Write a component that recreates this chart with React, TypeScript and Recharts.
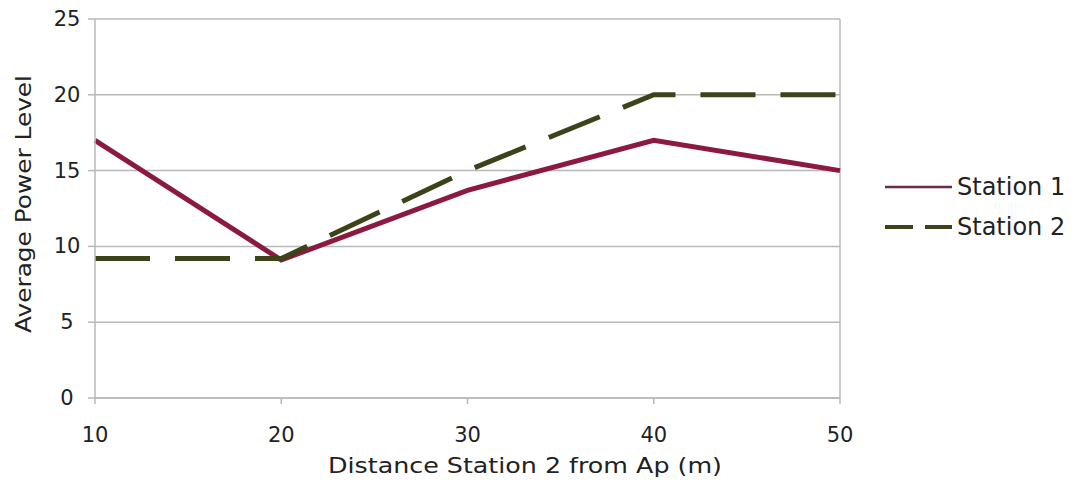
import React from "react";
import {
  LineChart,
  Line,
  XAxis,
  YAxis,
  CartesianGrid,
  Legend,
  ReferenceLine,
} from "recharts";

const distances = [10, 20, 30, 40, 50];
const station1 = [17, 9.1, 13.7, 17, 15];
const station2 = [9.2, 9.2, 15, 20, 20];
const yTicks = [0, 5, 10, 15, 20, 25];

const data = distances.map((d, i) => ({
  distance: d,
  s1: station1[i],
  s2: station2[i],
}));

const FONT = "'DejaVu Sans', Verdana, sans-serif";
const C1 = "#8c1a40";
const C2 = "#3b4318";
const GRID = "#b8b8b8";

const YTick = ({ y, payload }: any) => (
  <text
    x={67}
    y={y}
    textAnchor="middle"
    dominantBaseline="central"
    fontFamily={FONT}
    fontSize={21}
    fill="#222"
  >
    {payload.value}
  </text>
);

const LegendBox = () => (
  <div style={{ fontFamily: FONT, fontSize: 24, color: "#222" }}>
    <div style={{ display: "flex", alignItems: "center", height: 40 }}>
      <svg width={72} height={10}>
        <line x1={0} y1={5} x2={67} y2={5} stroke="#6a2a4a" strokeWidth={2.5} />
      </svg>
      <span>Station 1</span>
    </div>
    <div style={{ display: "flex", alignItems: "center", height: 40 }}>
      <svg width={72} height={10}>
        <line
          x1={0}
          y1={5}
          x2={67}
          y2={5}
          stroke={C2}
          strokeWidth={4}
          strokeDasharray="28 12"
        />
      </svg>
      <span>Station 2</span>
    </div>
  </div>
);

export default function App() {
  return (
    <div style={{ position: "absolute", left: 0, top: 0, background: "#fff" }}>
      <LineChart
        width={1077}
        height={488}
        data={data}
        margin={{ top: 19, right: 237, left: 0, bottom: 0 }}
      >
        <CartesianGrid vertical={false} stroke={GRID} strokeWidth={1.5} />
        <XAxis
          dataKey="distance"
          type="number"
          domain={[10, 50]}
          ticks={distances}
          height={90}
          stroke={GRID}
          strokeWidth={1.5}
          tickSize={6}
          tickMargin={23}
          tick={{ fontFamily: FONT, fontSize: 21, fill: "#222" }}
          label={{
            content: () => (
              <text
                x={525}
                y={466}
                textAnchor="middle"
                dominantBaseline="central"
                fontFamily={FONT}
                fontSize={21}
                textLength={394}
                lengthAdjust="spacingAndGlyphs"
                fill="#222"
              >
                Distance Station 2 from Ap (m)
              </text>
            ),
          }}
        />
        <YAxis
          domain={[0, 25]}
          ticks={yTicks}
          width={95}
          stroke={GRID}
          strokeWidth={1.5}
          tickSize={7}
          tick={<YTick />}
          label={{
            content: () => (
              <text
                x={24}
                y={204}
                transform="rotate(-90 24 204)"
                textAnchor="middle"
                dominantBaseline="central"
                fontFamily={FONT}
                fontSize={21}
                textLength={258}
                lengthAdjust="spacingAndGlyphs"
                fill="#222"
              >
                Average Power Level
              </text>
            ),
          }}
        />
        <ReferenceLine x={50} stroke={GRID} strokeWidth={1.5} />
        <Legend
          layout="vertical"
          verticalAlign="middle"
          align="center"
          content={() => <LegendBox />}
          wrapperStyle={{ left: 885, top: 167, width: 192 }}
        />
        <Line
          dataKey="s1"
          name="Station 1"
          stroke={C1}
          strokeWidth={5}
          dot={false}
          isAnimationActive={false}
        />
        <Line
          dataKey="s2"
          name="Station 2"
          stroke={C2}
          strokeWidth={5}
          strokeDasharray="55 25"
          dot={false}
          isAnimationActive={false}
        />
      </LineChart>
    </div>
  );
}
